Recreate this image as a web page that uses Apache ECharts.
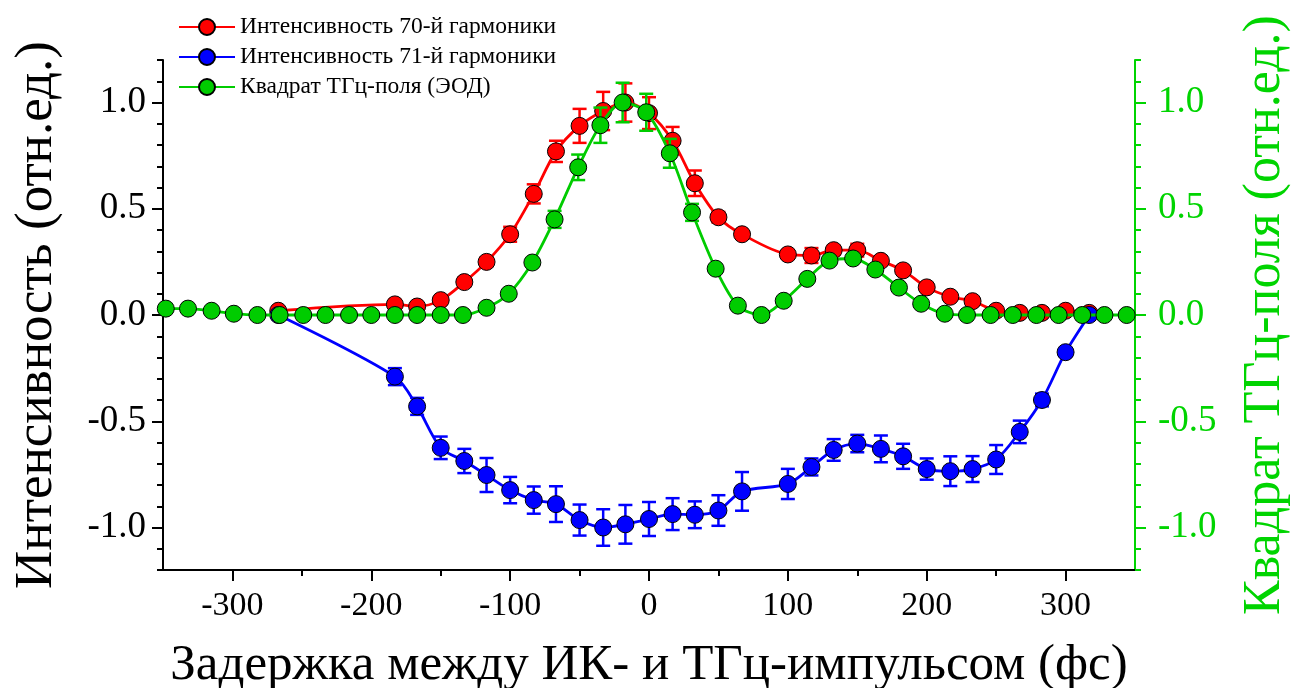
<!DOCTYPE html>
<html>
<head>
<meta charset="utf-8">
<script src="https://cdn.jsdelivr.net/npm/echarts@6/dist/echarts.min.js"></script>
<style>
html,body{margin:0;padding:0;background:#fff;}
#chart{width:1295px;height:688px;}
</style>
</head>
<body>
<div id="chart"></div>
<script>
// ---- Data ----
var seriesNames = ['Интенсивность 70-й гармоники', 'Интенсивность 71-й гармоники', 'Квадрат ТГц-поля (ЭОД)'];
var xAxisName = 'Задержка между ИК- и ТГц-импульсом (фс)';
var yLeftName = 'Интенсивность (отн.ед.)';
var yRightName = 'Квадрат ТГц-поля (отн.ед.)';
var xMajorTicks = [-300, -200, -100, 0, 100, 200, 300];
var yMajorTicks = [-1.0, -0.5, 0.0, 0.5, 1.0];

// harmonic delays (fs)
var harmX = [-267, -183, -167, -150, -133, -117, -100, -83, -67, -50, -33, -17, 0, 17, 33, 50, 67, 100, 117, 133, 150, 167, 183, 200, 217, 233, 250, 267, 283, 300, 317];
var red = [0.02, 0.05, 0.04, 0.07, 0.155, 0.25, 0.38, 0.57, 0.77, 0.89, 0.96, 1.0, 0.95, 0.82, 0.62, 0.46, 0.38, 0.285, 0.28, 0.305, 0.305, 0.255, 0.21, 0.13, 0.086, 0.065, 0.02, 0.01, 0.01, 0.02, 0.01];
var redErr = [0.01, 0.015, 0.015, 0.015, 0.02, 0.02, 0.035, 0.045, 0.05, 0.08, 0.09, 0.09, 0.075, 0.065, 0.06, 0.025, 0.015, 0.02, 0.035, 0.02, 0.03, 0.02, 0.015, 0.015, 0.015, 0.015, 0.01, 0.01, 0.01, 0.01, 0.01];
var blue = [0.0, -0.29, -0.43, -0.625, -0.687, -0.753, -0.824, -0.871, -0.89, -0.965, -1.0, -0.985, -0.96, -0.937, -0.94, -0.92, -0.83, -0.795, -0.715, -0.635, -0.605, -0.63, -0.665, -0.725, -0.735, -0.725, -0.68, -0.55, -0.40, -0.175, 0.0];
var blueErr = [0.0, 0.04, 0.04, 0.053, 0.057, 0.08, 0.062, 0.064, 0.084, 0.073, 0.086, 0.091, 0.08, 0.075, 0.063, 0.072, 0.091, 0.071, 0.04, 0.051, 0.041, 0.063, 0.059, 0.05, 0.07, 0.061, 0.068, 0.053, 0.03, 0.015, 0.0];

// THz field delays (fs)
var thzX = [-348, -332, -315, -299, -282, -266, -249, -233, -216, -200, -183, -167, -150, -134, -117, -101, -84, -68, -51, -35, -19, -2, 15, 31, 48, 64, 81, 97, 114, 130, 147, 163, 180, 196, 213, 229, 246, 262, 279, 295, 312, 328, 344];
var green = [0.03, 0.03, 0.02, 0.006, 0, 0, 0, 0, 0, 0, 0, 0, 0, 0, 0.034, 0.10, 0.247, 0.45, 0.695, 0.893, 1.0, 0.954, 0.761, 0.483, 0.218, 0.044, 0.0, 0.067, 0.17, 0.256, 0.266, 0.214, 0.129, 0.053, 0.006, 0, 0, 0, 0, 0, 0, 0, 0];
var greenErr = [0, 0, 0, 0, 0, 0, 0, 0, 0, 0, 0, 0, 0, 0, 0.01, 0.01, 0.015, 0.04, 0.06, 0.083, 0.093, 0.087, 0.068, 0.04, 0.015, 0.01, 0.01, 0.01, 0.01, 0.01, 0.01, 0.01, 0.01, 0.01, 0, 0, 0, 0, 0, 0, 0, 0, 0];

// ---- Styling ----
var FONT = "'Liberation Serif', 'Times New Roman', serif";
var RED = '#ff0000', BLUE = '#0000ff', GREEN = '#00cc00', GREEN_AX = '#00d400';

function pairs(xs, ys) { return xs.map(function (x, i) { return [x, ys[i]]; }); }
function errData(xs, ys, es) { return xs.map(function (x, i) { return [x, ys[i] - es[i], ys[i] + es[i]]; }); }

function errRender(color) {
  return function (params, api) {
    var x = api.value(0), lo = api.value(1), hi = api.value(2);
    if (Math.abs(hi - lo) < 0.005) return { type: 'group', children: [] };
    var p1 = api.coord([x, hi]), p2 = api.coord([x, lo]);
    var w = 7;
    var st = { stroke: color, lineWidth: 2.5 };
    return {
      type: 'group',
      children: [
        { type: 'line', shape: { x1: p1[0], y1: p1[1], x2: p2[0], y2: p2[1] }, style: st },
        { type: 'line', shape: { x1: p1[0] - w, y1: p1[1], x2: p1[0] + w, y2: p1[1] }, style: st },
        { type: 'line', shape: { x1: p2[0] - w, y1: p2[1], x2: p2[0] + w, y2: p2[1] }, style: st }
      ]
    };
  };
}

function fmtY(v) {
  var k = Math.round(v * 10);
  if (k % 5 !== 0) return '';
  if (k === 0) return '0.0';
  return (k / 10).toFixed(1);
}
function fmtX(v) {
  var r = Math.round(v);
  if (r % 100 !== 0) return '';
  return String(r);
}

var chart = echarts.init(document.getElementById('chart'), null, { renderer: 'canvas' });

function lineSeries(name, data, color, yIdx, z) {
  return {
    name: name, type: 'line', data: data, xAxisIndex: 0, yAxisIndex: yIdx,
    smooth: 0.3, symbol: 'circle', symbolSize: 17, z: z,
    lineStyle: { color: color, width: 2.8 },
    itemStyle: { color: color, borderColor: '#000', borderWidth: 1 },
    emphasis: { disabled: true }
  };
}
function errSeries(data, color, yIdx, z) {
  return {
    type: 'custom', data: data, xAxisIndex: 0, yAxisIndex: yIdx, z: z,
    renderItem: errRender(color), encode: { x: 0, y: [1, 2] }, silent: true
  };
}

var option = {
  animation: false,
  backgroundColor: '#fff',
  grid: { left: 163, right: 160, top: 60, bottom: 118, containLabel: false, outerBoundsMode: 'none' },
  legend: {
    data: seriesNames, orient: 'vertical', left: 173, top: 10,
    itemWidth: 56, itemHeight: 20, itemGap: 6,
    textStyle: { fontFamily: FONT, fontSize: 23.5, color: '#000' }
  },
  xAxis: [
    {
      type: 'value', min: -350, max: 350, interval: 50, position: 'bottom',
      name: xAxisName, nameLocation: 'middle', nameGap: 70,
      nameTextStyle: { fontFamily: FONT, fontSize: 51, color: '#000' },
      axisLine: { show: true, onZero: false, lineStyle: { color: '#000', width: 2 } },
      axisTick: { show: true, inside: false, length: 6, lineStyle: { color: '#000', width: 2 } },
      axisLabel: { formatter: fmtX, fontFamily: FONT, fontSize: 34, color: '#000', margin: 19, showMinLabel: false, showMaxLabel: false },
      splitLine: { show: false }
    },
    {
      type: 'value', min: -350, max: 350, position: 'bottom', offset: 0,
      axisLine: { show: false, onZero: false },
      axisTick: { show: true, inside: false, length: 11, customValues: xMajorTicks, lineStyle: { color: '#000', width: 2 } },
      axisLabel: { show: false }, splitLine: { show: false }
    }
  ],
  yAxis: [
    {
      type: 'value', min: -1.2, max: 1.2, interval: 0.1, position: 'left',
      name: yLeftName, nameLocation: 'middle', nameGap: 99,
      nameTextStyle: { fontFamily: FONT, fontSize: 53, color: '#000' },
      axisLine: { show: true, onZero: false, lineStyle: { color: '#000', width: 2 } },
      axisTick: { show: true, inside: false, length: 6, lineStyle: { color: '#000', width: 2 } },
      axisLabel: { formatter: fmtY, fontFamily: FONT, fontSize: 37, color: '#000', margin: 17 },
      splitLine: { show: false }
    },
    {
      type: 'value', min: -1.2, max: 1.2, interval: 0.1, position: 'right',
      name: yRightName, nameLocation: 'middle', nameGap: 104,
      nameTextStyle: { fontFamily: FONT, fontSize: 52, color: GREEN_AX },
      axisLine: { show: true, onZero: false, lineStyle: { color: GREEN_AX, width: 2 } },
      axisTick: { show: true, inside: false, length: 6, lineStyle: { color: GREEN_AX, width: 2 } },
      axisLabel: { formatter: fmtY, fontFamily: FONT, fontSize: 37, color: GREEN_AX, margin: 23 },
      splitLine: { show: false }
    },
    {
      type: 'value', min: -1.2, max: 1.2, position: 'left', offset: 0,
      axisLine: { show: false, onZero: false },
      axisTick: { show: true, inside: false, length: 11, customValues: yMajorTicks, lineStyle: { color: '#000', width: 2 } },
      axisLabel: { show: false }, splitLine: { show: false }
    },
    {
      type: 'value', min: -1.2, max: 1.2, position: 'right', offset: 0,
      axisLine: { show: false, onZero: false },
      axisTick: { show: true, inside: false, length: 11, customValues: yMajorTicks, lineStyle: { color: GREEN_AX, width: 2 } },
      axisLabel: { show: false }, splitLine: { show: false }
    }
  ],
  series: [
    errSeries(errData(harmX, red, redErr), RED, 0, 2),
    lineSeries(seriesNames[0], pairs(harmX, red), RED, 0, 3),
    errSeries(errData(harmX, blue, blueErr), BLUE, 0, 4),
    lineSeries(seriesNames[1], pairs(harmX, blue), BLUE, 0, 5),
    errSeries(errData(thzX, green, greenErr), GREEN, 1, 6),
    lineSeries(seriesNames[2], pairs(thzX, green), GREEN, 1, 7)
  ]
};
chart.setOption(option);
</script>
</body>
</html>
